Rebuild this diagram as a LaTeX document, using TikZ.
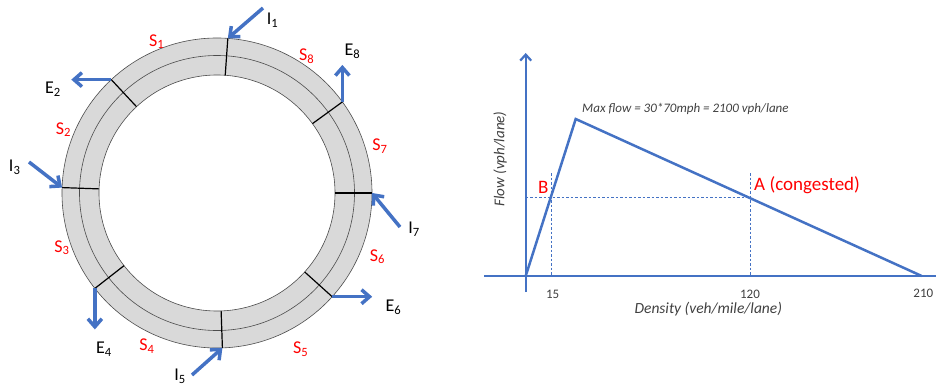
\documentclass[tikz,border=0pt]{standalone}
\usepackage{fontspec}
\setmainfont{Carlito}
\usetikzlibrary{arrows.meta}
\definecolor{okmavi}{HTML}{4472C4}
\definecolor{halka}{HTML}{D9D9D9}
\definecolor{koyu}{HTML}{404040}

\begin{document}
\begin{tikzpicture}[x=1pt, y=-1pt, every node/.style={inner sep=0pt},
    akis/.style={okmavi, line width=3.5pt, -{Straight Barb[length=8pt,width=14pt]}},
    eksen/.style={okmavi, line width=2.2pt},
    egri/.style={okmavi, line width=2.5pt, line join=miter},
    kesik/.style={okmavi, line width=0.6pt, dash pattern=on 2.5pt off 2pt},
    bolum/.style={text=red, font=\fontsize{18}{18}\selectfont},
    uc/.style={font=\fontsize{18}{18}\selectfont},
    yazi/.style={text=koyu, font=\fontsize{13}{13}\selectfont}]
    \useasboundingbox (0,0) rectangle (936,385);
    % Halka
    \coordinate (c) at (217,193);
    \fill[halka, even odd rule] (c) circle[radius=155pt] (c) circle[radius=118pt];
    \draw[gray!60!black, line width=0.6pt] (c) circle[radius=155pt]
        (c) circle[radius=137.5pt] (c) circle[radius=118pt];
    % Bölüm sınırları
    \foreach \a/\n in {86/1,133/2,178/3,218/4,272/5,318/6,0/7,36/8}{
        \path (c) ++(\a:118pt) coordinate (i\n) (c) ++(\a:155pt) coordinate (o\n);
        \draw[line width=1.2pt] (i\n) -- (o\n);
    }
    % Giriş ve çıkış okları
    \coordinate (I1s) at (263,8);
    \coordinate (I3s) at (29,162);
    \coordinate (I5s) at (192,375);
    \coordinate (I7s) at (400,227);
    \path (o2) ++(-40,0) coordinate (E2e);
    \path (o4) ++(0,41) coordinate (E4e);
    \path (o6) ++(40,0) coordinate (E6e);
    \path (o8) ++(0,-37) coordinate (E8e);
    \draw[akis] (I1s) -- (o1);
    \draw[akis] (I3s) -- (o3);
    \draw[akis] (I5s) -- (o5);
    \draw[akis] (I7s) -- (o7);
    \draw[akis] (o2) -- (E2e);
    \draw[akis] (o4) -- (E4e);
    \draw[akis] (o6) -- (E6e);
    \draw[akis] (o8) -- (E8e);
    \node[uc] (lI1) at (272.5,20) {I\textsubscript{1}};
    \node[uc] (lE2) at (53,89) {E\textsubscript{2}};
    \node[uc] (lI3) at (14.7,167.5) {I\textsubscript{3}};
    \node[uc] (lE4) at (104,349.5) {E\textsubscript{4}};
    \node[uc] (lI5) at (180,376) {I\textsubscript{5}};
    \node[uc] (lE6) at (393.5,307) {E\textsubscript{6}};
    \node[uc] (lI7) at (414,229.5) {I\textsubscript{7}};
    \node[uc] (lE8) at (352.5,51.3) {E\textsubscript{8}};
    % Bölüm adları
    \node[bolum] (S1) at (156.7,41.7) {S\textsubscript{1}};
    \node[bolum] (S2) at (63.5,129.7) {S\textsubscript{2}};
    \node[bolum] (S3) at (62,247.7) {S\textsubscript{3}};
    \node[bolum] (S4) at (147,346.3) {S\textsubscript{4}};
    \node[bolum] (S5) at (300.8,349) {S\textsubscript{5}};
    \node[bolum] (S6) at (377.5,256.7) {S\textsubscript{6}};
    \node[bolum] (S7) at (380,146) {S\textsubscript{7}};
    \node[bolum] (S8) at (306.7,56) {S\textsubscript{8}};
    % Eksenler
    \coordinate (O) at (525.7,276);
    \coordinate (ybas) at (525.7,292);
    \coordinate (yuc) at (525.7,53);
    \coordinate (xbas) at (484,276);
    \coordinate (xuc) at (936,276);
    \draw[eksen, -{Straight Barb[length=6pt,width=11pt]}] (ybas) -- (yuc);
    \draw[eksen] (xbas) -- (xuc);
    % Akış-yoğunluk eğrisi
    \coordinate (tepe) at (575.7,119);
    \coordinate (son) at (921.7,276);
    \draw[egri] (O) -- (tepe) -- (son);
    % Kesikli çizgiler
    \coordinate (ysol) at (525.7,197.3);
    \coordinate (A) at (750,197.3);
    \coordinate (Bust) at (551.7,173);
    \coordinate (Balt) at (551.7,276);
    \coordinate (Aust) at (750,173);
    \coordinate (Aalt) at (750,276);
    \draw[kesik] (ysol) -- (A);
    \draw[kesik] (Bust) -- (Balt);
    \draw[kesik] (Aust) -- (Aalt);
    % Yazılar
    \node[text=red, font=\fontsize{19}{19}\selectfont] (Bet) at (543.3,187) {B};
    \node[text=red, font=\fontsize{19}{19}\selectfont, anchor=west] (Aet) at (754,185.3) {A (congested)};
    \node[yazi, font=\itshape\fontsize{13}{13}\selectfont, anchor=west] (maks) at (582,109.3) {Max flow = 30*70mph = 2100 vph/lane};
    \node[yazi, font=\itshape\fontsize{15}{15}\selectfont, rotate=90] (yet) at (500,159) {Flow (vph/lane)};
    \node[yazi, font=\itshape\fontsize{15.5}{15.5}\selectfont] (xet) at (708.3,309.3) {Density (veh/mile/lane)};
    \node[yazi] (t15) at (552.7,294.3) {15};
    \node[yazi] (t120) at (750,294.3) {120};
    \node[yazi] (t210) at (923.3,293.5) {210};
\end{tikzpicture}
\end{document}
